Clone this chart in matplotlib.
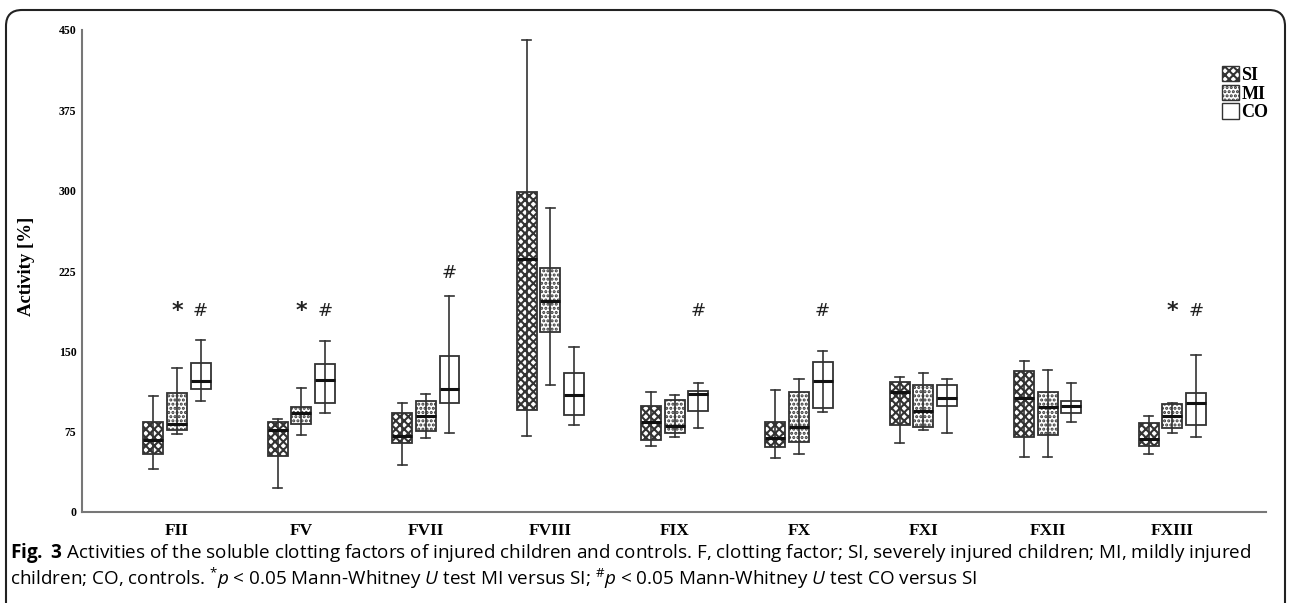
import matplotlib
matplotlib.use("Agg")
import matplotlib.pyplot as plt
from matplotlib.patches import FancyBboxPatch, Patch
from matplotlib.transforms import IdentityTransform
import numpy as np

plt.rcParams['mathtext.fontset'] = 'custom'
plt.rcParams['mathtext.rm'] = 'Open Sans'
plt.rcParams['mathtext.it'] = 'Open Sans:italic'
plt.rcParams['mathtext.bf'] = 'Open Sans:bold'
plt.rcParams['hatch.linewidth'] = 1.5

factors = ["FII", "FV", "FVII", "FVIII", "FIX", "FX", "FXI", "FXII", "FXIII"]
groups = ["SI", "MI", "CO"]

# [whislo, q1, median, q3, whishi] per factor
SI = [[40, 54, 67, 84, 108],
      [22, 52, 77, 84, 87],
      [44, 64, 71, 92, 102],
      [71, 95, 236, 299, 441],
      [62, 67, 84, 99, 112],
      [50, 61, 69, 84, 114],
      [64, 81, 112, 121, 126],
      [51, 70, 106, 132, 141],
      [54, 62, 68, 83, 90]]
MI = [[73, 77, 82, 111, 134],
      [72, 82, 92, 98, 116],
      [69, 76, 90, 104, 110],
      [119, 168, 197, 228, 284],
      [70, 74, 80, 105, 109],
      [54, 65, 79, 112, 124],
      [77, 79, 94, 119, 130],
      [51, 72, 98, 112, 133],
      [74, 78, 90, 101, 102]]
CO = [[104, 115, 122, 139, 161],
      [92, 102, 123, 138, 160],
      [74, 102, 115, 146, 202],
      [81, 91, 109, 130, 154],
      [78, 94, 110, 113, 120],
      [93, 97, 122, 140, 150],
      [74, 99, 106, 119, 124],
      [84, 92, 99, 104, 120],
      [70, 81, 102, 111, 147]]

# significance markers
star_factors = ["FII", "FV", "FXIII"]
hash_factors = ["FII", "FV", "FVII", "FIX", "FX", "FXIII"]
marker_level = {"FVII": 223}
default_level = 188

yticks = [0, 75, 150, 225, 300, 375, 450]

caption1 = (r"$\mathbf{Fig.\ 3}$ Activities of the soluble clotting factors of injured children and controls. "
            "F, clotting factor; SI, severely injured children; MI, mildly injured")
caption2 = (r"children; CO, controls. $^{*}\mathit{p}$ < 0.05 Mann-Whitney $\mathit{U}$ test MI versus SI; "
            r"$^{\#}\mathit{p}$ < 0.05 Mann-Whitney $\mathit{U}$ test CO versus SI")

W, H = 1290, 603
fig = plt.figure(figsize=(W / 100, H / 100), dpi=100)
ax = fig.add_axes([82 / W, 1 - 512 / H, (1266 - 82) / W, (512 - 30) / H])

offsets = [-0.19, 0.0, 0.19]
hatches = ["xxxx", "....", None]
data_sets = [SI, MI, CO]
x = np.arange(len(factors))
bw = 0.16

for g, (dset, off, hatch) in enumerate(zip(data_sets, offsets, hatches)):
    stats = []
    for row in dset:
        lo, q1, med, q3, hi = row
        stats.append(dict(whislo=lo, q1=q1, med=med, q3=q3, whishi=hi, fliers=[]))
    pos = x + off
    arr = np.array(dset)
    ax.vlines(pos, arr[:, 1], arr[:, 3], color="#333333", lw=1.2, zorder=2)
    bp = ax.bxp(stats, positions=pos, widths=bw, patch_artist=True, showfliers=False,
                capwidths=0.075, manage_ticks=False,
                boxprops=dict(facecolor="none", edgecolor="#333333", linewidth=1.3),
                medianprops=dict(color="#111111", linewidth=2.2),
                whiskerprops=dict(color="#333333", linewidth=1.2),
                capprops=dict(color="#333333", linewidth=1.2))
    for b in bp["boxes"]:
        b.set_zorder(3)
        if hatch:
            b.set_hatch(hatch)
            b.set_edgecolor("#333333")
    for m in bp["medians"]:
        m.set_zorder(4)

for f in star_factors:
    i = factors.index(f)
    ax.text(i + offsets[1], marker_level.get(f, default_level), "*", ha="center", va="center",
            fontsize=16, fontweight="bold", family="DejaVu Sans", color="#222222")
for f in hash_factors:
    i = factors.index(f)
    ax.text(i + offsets[2], marker_level.get(f, default_level), "#", ha="center", va="center",
            fontsize=13, family="DejaVu Sans", color="#222222")

ax.set_xlim(-0.764, 8.754)
ax.set_ylim(0, 450)
ax.set_yticks(yticks)
ax.set_yticklabels([str(t) for t in yticks], family="Liberation Serif", fontweight="bold", fontsize=8.5)
ax.set_xticks(x)
ax.set_xticklabels(factors, family="Liberation Serif", fontweight="bold", fontsize=12.5)
ax.tick_params(axis="both", length=0)
ax.tick_params(axis="y", pad=4)
ax.tick_params(axis="x", pad=8)
for s in ["top", "right"]:
    ax.spines[s].set_visible(False)
for s in ["left", "bottom"]:
    ax.spines[s].set_color("#777777")
    ax.spines[s].set_linewidth(1.5)
ax.set_ylabel("Activity [%]", family="Liberation Serif", fontweight="bold", fontsize=13.5)
ax.yaxis.set_label_coords((35 - 82) / (1266 - 82), (512 - 266) / (512 - 30))

handles = [Patch(facecolor="white", edgecolor="#333333", hatch=h, label=l)
           for h, l in zip(hatches, groups)]
leg = fig.legend(handles=handles, loc="upper left", bbox_to_anchor=(1222 / W, 1 - 66 / H),
                 frameon=False, prop=dict(family="Liberation Serif", weight="bold", size=13),
                 handlelength=0.92, handleheight=0.92, handletextpad=0.15, labelspacing=0.05,
                 borderpad=0, borderaxespad=0)

fig.text(10 / W, 1 - 553 / H, caption1, family="Open Sans", fontsize=13.6, va="center", ha="left")
fig.text(10 / W, 1 - 578 / H, caption2, family="Open Sans", fontsize=13.6, va="center", ha="left")

frame = FancyBboxPatch((6, -30), 1279, 623, boxstyle="round,pad=0,rounding_size=16",
                       transform=IdentityTransform(), facecolor="none", edgecolor="#222222",
                       linewidth=1.5)
fig.patches.append(frame)

fig.savefig("out.png", dpi=100)
